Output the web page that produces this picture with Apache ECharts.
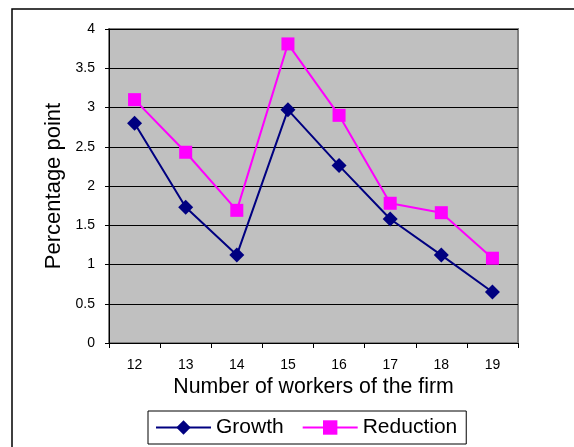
<!DOCTYPE html>
<html>
<head>
<meta charset="utf-8">
<script src="https://cdn.jsdelivr.net/npm/echarts@6/dist/echarts.min.js"></script>
<style>
  html, body { margin: 0; padding: 0; background: #fff; }
  #chart { width: 574px; height: 447px; }
</style>
</head>
<body>
<div id="chart"></div>
<script>
// Firm size categories (number of workers)
const categories = ['12', '13', '14', '15', '16', '17', '18', '19'];
// Percentage point values per series
const growth = [2.80, 1.73, 1.12, 2.97, 2.26, 1.58, 1.12, 0.65];
const reduction = [3.10, 2.43, 1.69, 3.81, 2.90, 1.78, 1.66, 1.08];
// Value axis range
const yMin = 0, yMax = 4, yStep = 0.5;

const FONT = '"Liberation Sans", Arial, sans-serif';

const chart = echarts.init(document.getElementById('chart'), null, { renderer: 'canvas' });

chart.setOption({
  backgroundColor: '#ffffff',
  animation: false,
  textStyle: { fontFamily: FONT, color: '#000' },
  graphic: [{
    type: 'rect',
    z: -10,
    shape: { x: 12, y: 9, width: 700, height: 600 },
    style: { fill: 'none', stroke: '#000', lineWidth: 1.5 }
  }],
  grid: {
    left: 109, right: 56, top: 29, bottom: 104,
    show: true,
    backgroundColor: '#c0c0c0',
    borderColor: '#808080',
    borderWidth: 2
  },
  legend: {
    left: 148, top: 411,
    orient: 'horizontal',
    itemWidth: 55, itemHeight: 18, itemGap: 18,
    padding: [6, 9, 6, 7],
    borderColor: '#000', borderWidth: 1,
    backgroundColor: '#fff',
    textStyle: { fontFamily: FONT, fontSize: 21, color: '#000' },
    data: ['Growth', 'Reduction']
  },
  xAxis: {
    type: 'category',
    data: categories,
    boundaryGap: true,
    name: 'Number of workers of the firm',
    nameLocation: 'middle',
    nameGap: 34,
    nameTextStyle: { fontFamily: FONT, fontSize: 21.3, color: '#000' },
    axisLine: { lineStyle: { color: '#000', width: 1 } },
    axisTick: { show: true, alignWithLabel: false, length: 5, lineStyle: { color: '#000' } },
    axisLabel: { fontFamily: FONT, fontSize: 14, color: '#000', margin: 15 },
    splitLine: { show: false }
  },
  yAxis: {
    type: 'value',
    min: yMin, max: yMax, interval: yStep,
    name: 'Percentage point',
    nameLocation: 'middle',
    nameGap: 44,
    nameTextStyle: { fontFamily: FONT, fontSize: 22, color: '#000' },
    axisLine: { show: true, lineStyle: { color: '#000', width: 1 } },
    axisTick: { show: true, length: 4, lineStyle: { color: '#000' } },
    axisLabel: { fontFamily: FONT, fontSize: 14, color: '#000', margin: 14 },
    splitLine: { show: true, lineStyle: { color: '#000', width: 1 } }
  },
  series: [
    {
      name: 'Growth',
      type: 'line',
      data: growth,
      symbol: 'diamond',
      symbolSize: 15,
      itemStyle: { color: '#000080' },
      lineStyle: { color: '#000080', width: 2 }
    },
    {
      name: 'Reduction',
      type: 'line',
      data: reduction,
      symbol: 'rect',
      symbolSize: 13,
      itemStyle: { color: '#ff00ff' },
      lineStyle: { color: '#ff00ff', width: 2 }
    }
  ]
});
</script>
</body>
</html>
